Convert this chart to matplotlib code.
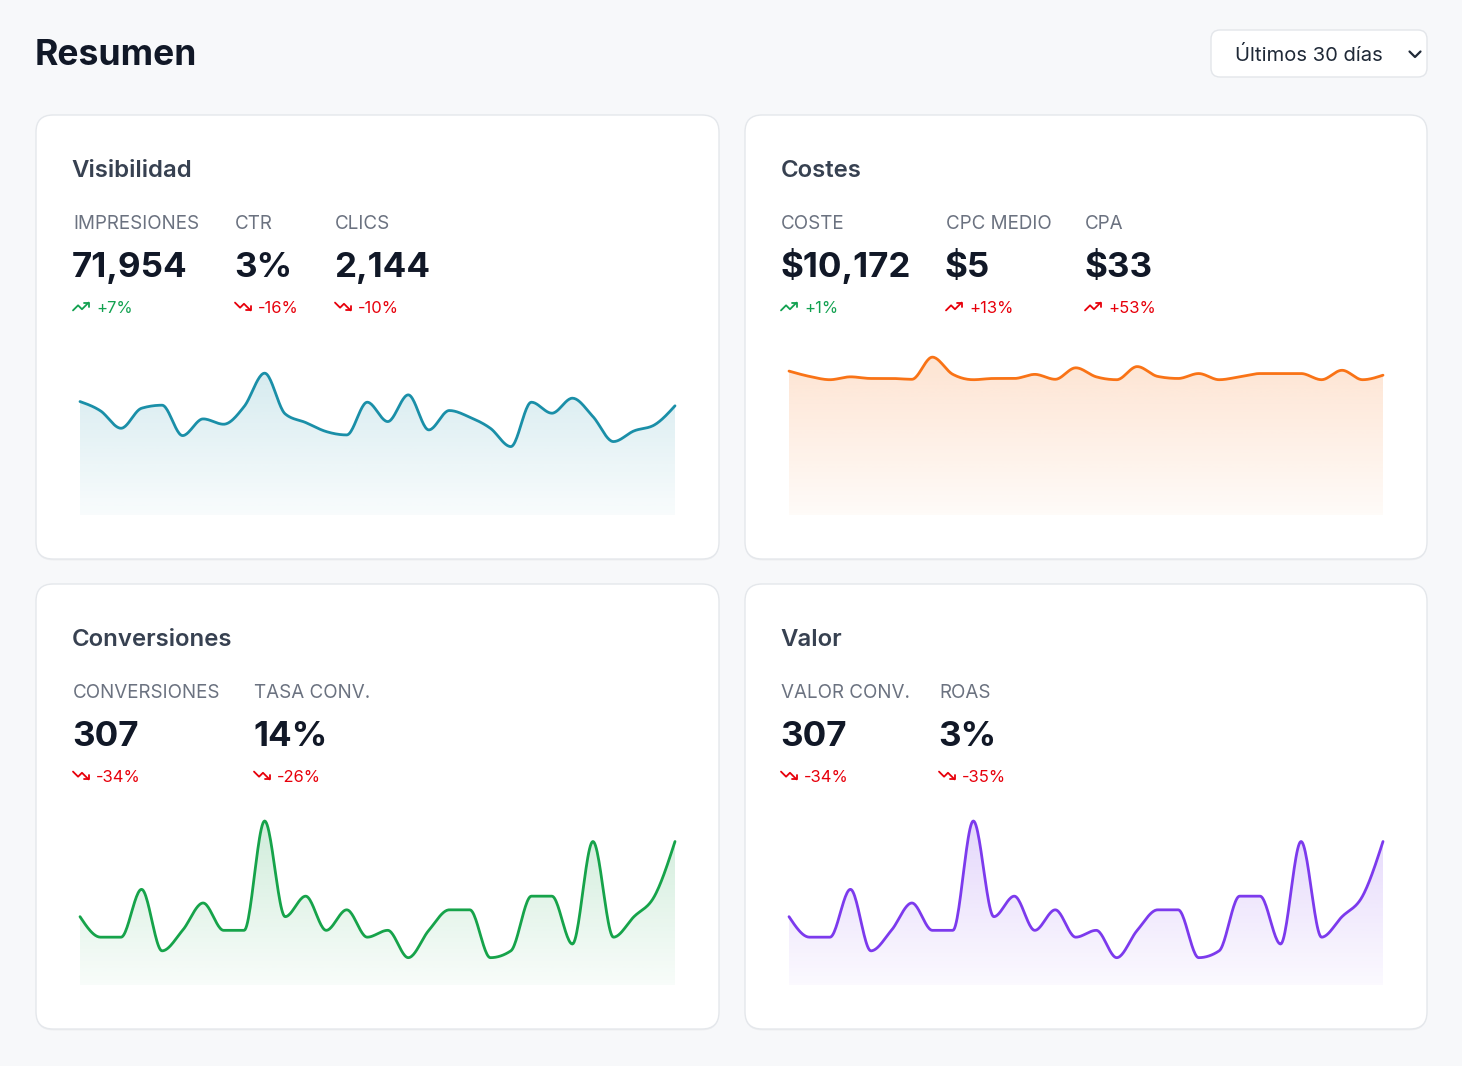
import numpy as np
import matplotlib
matplotlib.use('Agg')
import matplotlib.pyplot as plt
from matplotlib.patches import FancyBboxPatch, Polygon
from matplotlib.colors import to_rgb

plt.rcParams['font.family'] = ['Inter', 'DejaVu Sans']

W, H = 1462, 1066

# daily series (30 days)
impresiones = [2767, 2540, 2116, 2604, 2678, 1937, 2344, 2214, 2645, 3459,
               2466, 2255, 2035, 1953, 2751, 2279, 2930, 2076, 2548, 2385,
               2116, 1669, 2751, 2483, 2849, 2401, 1791, 2051, 2198, 2663]
coste = [351, 338, 330, 337, 333, 333, 331, 385, 343, 330,
         333, 333, 343, 331, 359, 337, 330, 362, 338, 333,
         345, 330, 337, 345, 345, 345, 330, 353, 330, 341]
conversiones = [10, 7, 7, 14, 5, 8, 12, 8, 8, 24,
                10, 13, 8, 11, 7, 8, 4, 8, 11, 11,
                4, 5, 13, 13, 6, 21, 7, 10, 13, 21]
valor_conv = [10, 7, 7, 14, 5, 8, 12, 8, 8, 24,
              10, 13, 8, 11, 7, 8, 4, 8, 11, 11,
              4, 5, 13, 13, 6, 21, 7, 10, 13, 21]

# card headline metrics: (label, value, change)
vis_metrics = [('IMPRESIONES', '71,954', '+7%'), ('CTR', '3%', '-16%'), ('CLICS', '2,144', '-10%')]
cost_metrics = [('COSTE', '$10,172', '+1%'), ('CPC MEDIO', '$5', '+13%'), ('CPA', '$33', '+53%')]
conv_metrics = [('CONVERSIONES', '307', '-34%'), ('TASA CONV.', '14%', '-26%')]
val_metrics = [('VALOR CONV.', '307', '-34%'), ('ROAS', '3%', '-35%')]
# good/bad flag for each change (cost going up is bad)
vis_good = [True, False, False]
cost_good = [True, False, False]
conv_good = [False, False]
val_good = [False, False]

BG = '#f7f8fa'
DARK = '#111827'
TITLE = '#374151'
MUTED = '#6b7280'
GREEN = '#12a150'
RED = '#e7000b'


def pt(px):
    return px * 72 / 100


def monotone_curve(y, n=24):
    # d3 curveMonotoneX
    y = np.asarray(y, dtype=float)
    x = np.arange(len(y), dtype=float)
    s = np.diff(y)
    t = np.zeros(len(y))
    for i in range(1, len(y) - 1):
        s0, s1 = s[i - 1], s[i]
        p = (s0 + s1) / 2
        sg = (-1 if s0 < 0 else 1) + (-1 if s1 < 0 else 1)
        t[i] = sg * min(abs(s0), abs(s1), 0.5 * abs(p))
    t[0] = (3 * s[0] - t[1]) / 2
    t[-1] = (3 * s[-1] - t[-2]) / 2
    xs, ys = [], []
    u = np.linspace(0, 1, n, endpoint=False)
    for i in range(len(y) - 1):
        h00 = 2 * u**3 - 3 * u**2 + 1
        h10 = u**3 - 2 * u**2 + u
        h01 = -2 * u**3 + 3 * u**2
        h11 = u**3 - u**2
        xs.append(x[i] + u)
        ys.append(h00 * y[i] + h10 * t[i] + h01 * y[i + 1] + h11 * t[i + 1])
    xs.append([x[-1]])
    ys.append([y[-1]])
    return np.concatenate(xs), np.concatenate(ys)


fig = plt.figure(figsize=(W / 100, H / 100), dpi=100)
fig.patch.set_facecolor(BG)
bg = fig.add_axes([0, 0, 1, 1])
bg.set_xlim(0, W)
bg.set_ylim(H, 0)
bg.axis('off')

# header
bg.text(35, 65, 'Resumen', fontsize=pt(35.5), fontweight='bold', color=DARK, va='baseline')
bg.add_patch(FancyBboxPatch((1211, 30), 216, 47, boxstyle='round,pad=0,rounding_size=9',
                            fc='white', ec='#e3e6ea', lw=1))
bg.text(1235, 61, 'Últimos 30 días', fontsize=pt(20.2), color='#1f2937', va='baseline')
bg.plot([1409.5, 1415, 1420.5], [51.5, 57, 51.5], color='#1f2937', lw=1.6,
        solid_capstyle='round', solid_joinstyle='round')


def trend_icon(x0, yc, up, color):
    s = 0.78
    if up:
        line = [(22, 7), (13.5, 15.5), (8.5, 10.5), (2, 17)]
        head = [(16, 7), (22, 7), (22, 13)]
    else:
        line = [(22, 17), (13.5, 8.5), (8.5, 13.5), (2, 7)]
        head = [(16, 17), (22, 17), (22, 11)]
    for pts in (line, head):
        xs = [x0 + (p[0] - 2) * s for p in pts]
        ys = [yc + (p[1] - 12) * s for p in pts]
        bg.plot(xs, ys, color=color, lw=1.3, solid_capstyle='round', solid_joinstyle='round')


def card(x0, y0, x1, y1, title, metrics, good, cols, series, ymax, color):
    # soft shadow + card
    bg.add_patch(FancyBboxPatch((x0, y0 + 1.5), x1 - x0, y1 - y0, boxstyle='round,pad=0,rounding_size=17',
                                fc='#000000', alpha=0.035, ec='none'))
    bg.add_patch(FancyBboxPatch((x0, y0), x1 - x0, y1 - y0, boxstyle='round,pad=0,rounding_size=17',
                                fc='white', ec='#e4e7eb', lw=1))
    bg.text(x0 + 35.5, y0 + 62, title, fontsize=pt(24), fontweight='semibold', color=TITLE, va='baseline')
    for (lab, val, chg), ok, cx in zip(metrics, good, cols):
        bg.text(cx, y0 + 114, lab, fontsize=pt(18.8), color=MUTED, va='baseline')
        bg.text(cx - 1, y0 + 162, val, fontsize=pt(35), fontweight='bold', color=DARK, va='baseline')
        c = GREEN if ok else RED
        trend_icon(cx, y0 + 191.5, chg.startswith('+'), c)
        bg.text(cx + 23, y0 + 198, chg, fontsize=pt(16.6), color=c, va='baseline')

    # sparkline
    left, right, bottom, height = x0 + 44, x1 - 44, y1 - 44, 164
    ax = fig.add_axes([left / W, 1 - bottom / H, (right - left) / W, height / H])
    ax.set_xlim(0, len(series) - 1)
    ax.set_ylim(0, ymax)
    ax.axis('off')
    xs, ys = monotone_curve(series)
    rgb = to_rgb(color)
    img = np.zeros((256, 1, 4))
    img[:, :, :3] = rgb
    img[:, 0, 3] = np.linspace(0.2, 0.03, 256)
    im = ax.imshow(img, extent=[0, len(series) - 1, 0, ymax], aspect='auto', origin='upper', zorder=1)
    verts = [(xs[0], 0)] + list(zip(xs, ys)) + [(xs[-1], 0)]
    clip = Polygon(verts, closed=True, fc='none', ec='none')
    ax.add_patch(clip)
    im.set_clip_path(clip)
    ax.plot(xs, ys, color=color, lw=2.0, clip_on=False, zorder=2,
            solid_capstyle='round', solid_joinstyle='round')


card(36, 115, 719, 559, 'Visibilidad', vis_metrics, vis_good, [73, 235, 335],
     impresiones, 4000, '#1a8fa8')
card(745, 115, 1427, 559, 'Costes', cost_metrics, cost_good, [781, 946, 1085],
     coste, 400, '#f97316')
card(36, 584, 719, 1029, 'Conversiones', conv_metrics, conv_good, [73, 254],
     conversiones, 24, '#16a34a')
card(745, 584, 1427, 1029, 'Valor', val_metrics, val_good, [781, 939],
     valor_conv, 24, '#7c3aed')

fig.savefig('out.png', dpi=100, facecolor=BG)
